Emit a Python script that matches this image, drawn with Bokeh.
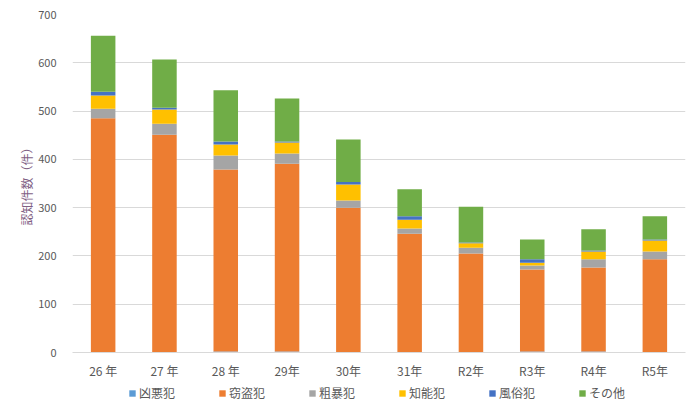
from bokeh.plotting import figure
from bokeh.layouts import column
from bokeh.models import ColumnDataSource, FactorRange, Legend, LegendItem, Range1d, FixedTicker
from bokeh.embed import file_html
from bokeh.resources import INLINE

years = ["26 年", "27 年", "28 年", "29年", "30年", "31年", "R2年", "R3年", "R4年", "R5年"]
series = ["凶悪犯", "窃盗犯", "粗暴犯", "知能犯", "風俗犯", "その他"]
kyoaku = [1, 1, 2, 2, 1, 1, 1, 2, 2, 1]
settou = [484, 450, 377, 389, 299, 245, 204, 170, 174, 192]
sobou = [20, 23, 29, 21, 15, 11, 12, 8, 17, 16]
chinou = [27, 29, 23, 23, 33, 18, 9, 6, 16, 23]
fuzoku = [8, 4, 6, 2, 5, 7, 2, 7, 2, 2]
sonota = [116, 100, 106, 89, 88, 56, 74, 41, 44, 48]
colors = ["#5B9BD5", "#ED7D31", "#A5A5A5", "#FFC000", "#4472C4", "#70AD47"]
y_ticks = [0, 100, 200, 300, 400, 500, 600, 700]

keys = ["s0", "s1", "s2", "s3", "s4", "s5"]
source = ColumnDataSource(dict(x=years, s0=kyoaku, s1=settou, s2=sobou, s3=chinou, s4=fuzoku, s5=sonota))

FONT = "Noto Sans CJK JP"

p = figure(width=700, height=385, x_range=FactorRange(*years, range_padding=0),
           y_range=Range1d(0, 700), output_backend="svg", toolbar_location=None,
           min_border_left=72, min_border_right=15, min_border_top=14, min_border_bottom=33)
p.outline_line_color = None
p.border_fill_color = "white"

renderers = p.vbar_stack(keys, x="x", width=0.4, color=colors, line_color=None, source=source)

p.xgrid.grid_line_color = None
p.ygrid.grid_line_color = "#D9D9D9"
p.ygrid.ticker = FixedTicker(ticks=y_ticks)

p.yaxis.ticker = FixedTicker(ticks=y_ticks)
p.yaxis.axis_line_color = None
p.yaxis.major_tick_line_color = None
p.yaxis.minor_tick_line_color = None
p.yaxis.major_label_text_font = FONT
p.yaxis.major_label_text_font_size = "11px"
p.yaxis.major_label_text_color = "#595959"
p.yaxis.major_label_standoff = 10
p.yaxis.axis_label = "認知件数（件）"
p.yaxis.axis_label_text_font = FONT
p.yaxis.axis_label_text_font_style = "normal"
p.yaxis.axis_label_text_font_size = "12px"
p.yaxis.axis_label_text_color = "#7F6084"
p.yaxis.axis_label_standoff = 0

p.xaxis.axis_line_color = "#D9D9D9"
p.xaxis.major_tick_line_color = None
p.xaxis.minor_tick_line_color = None
p.xaxis.major_label_text_font = FONT
p.xaxis.major_label_text_font_size = "12px"
p.xaxis.major_label_text_color = "#595959"
p.xaxis.major_label_standoff = 3

# legend strip below the chart; its renderers lie outside the strip's visible y range
q = figure(width=700, height=35, x_range=FactorRange(*years, range_padding=0), y_range=Range1d(1000, 1001),
           output_backend="svg", toolbar_location=None, x_axis_location=None, y_axis_location=None,
           min_border_left=0, min_border_right=0, min_border_top=0, min_border_bottom=0)
q.outline_line_color = None
q.grid.visible = False
leg_r = q.vbar_stack(keys, x="x", width=0.4, color=colors, line_color=None, source=source)

items = [LegendItem(label=s, renderers=[r]) for s, r in zip(series, leg_r)]
legend = Legend(items=items, orientation="horizontal", location=(56, 19),
                glyph_width=8, glyph_height=8, label_standoff=3, spacing=43,
                padding=0, margin=0, border_line_color=None, background_fill_alpha=0,
                label_text_font=FONT, label_text_font_size="12px", label_text_color="#595959")
q.add_layout(legend, "center")

layout = column(p, q, spacing=0)
open("out.html", "w").write(file_html(layout, INLINE))
